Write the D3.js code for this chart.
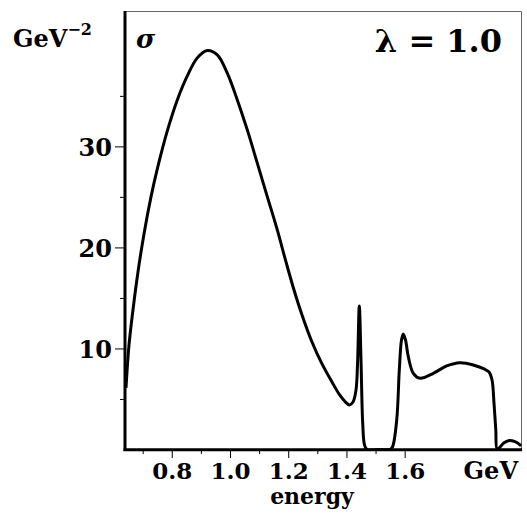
<!DOCTYPE html>
<html>
<head>
<meta charset="utf-8">
<script src="https://cdn.jsdelivr.net/npm/d3@7"></script>
<style>
  body { margin: 0; background: #fff; }
  text { font-family: "DejaVu Serif", serif; font-weight: bold; fill: #000; }
</style>
</head>
<body>
<svg width="527" height="514"></svg>
<script>
// energy in GeV, sigma in GeV^-2
const energy = [0.6427, 0.6531, 0.6667, 0.6839, 0.7046, 0.7286, 0.7503, 0.7846, 0.819, 0.8533,
  0.8877, 0.922, 0.9564, 0.9907, 1.0251, 1.0594, 1.0938, 1.1281, 1.1625, 1.1924,
  1.2199, 1.2474, 1.2817, 1.3161, 1.3504, 1.3779, 1.3985, 1.4105, 1.4226, 1.4329,
  1.438, 1.4442, 1.45, 1.4559, 1.4621, 1.4707, 1.5153, 1.5497, 1.5582, 1.5727,
  1.5816, 1.5892, 1.5953, 1.6029, 1.6125, 1.6297, 1.6527, 1.6984, 1.7444, 1.7901,
  1.8358, 1.8726, 1.8898, 1.9001, 1.9069, 1.9131, 1.9183, 1.9389, 1.956, 1.9791, 2.0];
const sigma = [6.09, 10.35, 13.81, 17.57, 21.34, 25.0, 27.77, 31.53, 34.6, 36.98,
  38.76, 39.49, 39.06, 37.25, 34.6, 31.63, 28.34, 25.03, 21.73, 18.56,
  15.79, 13.32, 10.64, 8.47, 6.68, 5.35, 4.65, 4.41, 4.7, 5.89,
  8.37, 14.21, 8.86, 2.62, 0.45, 0, 0, 0, 0.25, 2.92,
  7.87, 10.84, 11.44, 10.84, 9.19, 7.54, 7.05, 7.54, 8.27, 8.59,
  8.37, 7.97, 7.67, 6.88, 4.6, 1.93, 0.02, 0.61, 0.87, 0.77, 0.37];

const xMajor = [0.8, 1.0, 1.2, 1.4, 1.6];
const xMinor = [0.7, 0.9, 1.1, 1.3, 1.5];
const yMajor = [10, 20, 30];
const yMinor = [5, 15, 25, 35];

const svg = d3.select('svg');
const x = d3.scaleLinear().domain([0.64, 2.0]).range([125.2, 521.1]);
const y = d3.scaleLinear().domain([0, 43.3]).range([449.5, 12]);

svg.append('clipPath').attr('id', 'plot').append('rect')
  .attr('x', 125).attr('y', 11).attr('width', 397).attr('height', 439.5);

// frame: thin top/right
svg.append('line').attr('x1', 125).attr('x2', 521.5).attr('y1', 11.5).attr('y2', 11.5)
  .attr('stroke', '#666').attr('stroke-width', 1);
svg.append('line').attr('x1', 521.5).attr('x2', 521.5).attr('y1', 11.5).attr('y2', 450)
  .attr('stroke', '#666').attr('stroke-width', 1);

// ticks
const fmt = d3.format('.1f');
const xAxis = d3.axisBottom(x).tickValues(xMajor).tickSize(8).tickFormat(fmt);
const xAxisMinor = d3.axisBottom(x).tickValues(xMinor).tickSize(4).tickFormat('');
const yAxis = d3.axisLeft(y).tickValues(yMajor).tickSize(10);
const yAxisMinor = d3.axisLeft(y).tickValues(yMinor).tickSize(5).tickFormat('');

const gx = svg.append('g').attr('transform', 'translate(0,450)').call(xAxis);
svg.append('g').attr('transform', 'translate(0,450)').call(xAxisMinor);
const gy = svg.append('g').attr('transform', 'translate(125,0)').call(yAxis);
svg.append('g').attr('transform', 'translate(125,0)').call(yAxisMinor);

svg.selectAll('.domain').remove();
svg.selectAll('.tick line').attr('stroke', '#000').attr('stroke-width', 1);
svg.selectAll('.tick text').style('font-family', '"DejaVu Serif", serif')
  .style('font-weight', 'bold').style('font-size', '24px').attr('fill', '#000');
gx.selectAll('.tick text').style('font-size', '23px').attr('dy', null).attr('y', 28.5);
gy.selectAll('.tick text').attr('dy', '0.36em').attr('x', -13);

// curve
const pts = energy.map((e, i) => [e, sigma[i]]);
const line = d3.line().x(d => x(d[0])).y(d => y(d[1])).curve(d3.curveCatmullRom.alpha(0.5));
svg.append('path').datum(pts).attr('d', line).attr('clip-path', 'url(#plot)')
  .attr('fill', 'none').attr('stroke', '#000').attr('stroke-width', 3)
  .attr('stroke-linejoin', 'round');

// thick left/bottom axis lines
svg.append('line').attr('x1', 125).attr('x2', 125).attr('y1', 11).attr('y2', 451)
  .attr('stroke', '#000').attr('stroke-width', 3);
svg.append('line').attr('x1', 123.5).attr('x2', 522).attr('y1', 449.8).attr('y2', 449.8)
  .attr('stroke', '#000').attr('stroke-width', 3);

// labels
const yl = svg.append('text').attr('x', 13).attr('y', 47).style('font-size', '24px');
yl.append('tspan').text('GeV');
yl.append('tspan').attr('dy', -12).style('font-size', '16px').text('\u2212');
yl.append('tspan').style('font-size', '16px').text('2');

svg.append('text').attr('x', 136).attr('y', 48).style('font-size', '26px')
  .style('font-style', 'italic').text('\u03c3');

svg.append('text').attr('x', 502).attr('y', 52).attr('text-anchor', 'end')
  .style('font-size', '32px').text('\u03bb = 1.0');

svg.append('text').attr('x', 518).attr('y', 478.5).attr('text-anchor', 'end')
  .style('font-size', '24px').text('GeV');
svg.append('text').attr('x', 312).attr('y', 504).attr('text-anchor', 'middle')
  .style('font-size', '22px').text('energy');
</script>
</body>
</html>
